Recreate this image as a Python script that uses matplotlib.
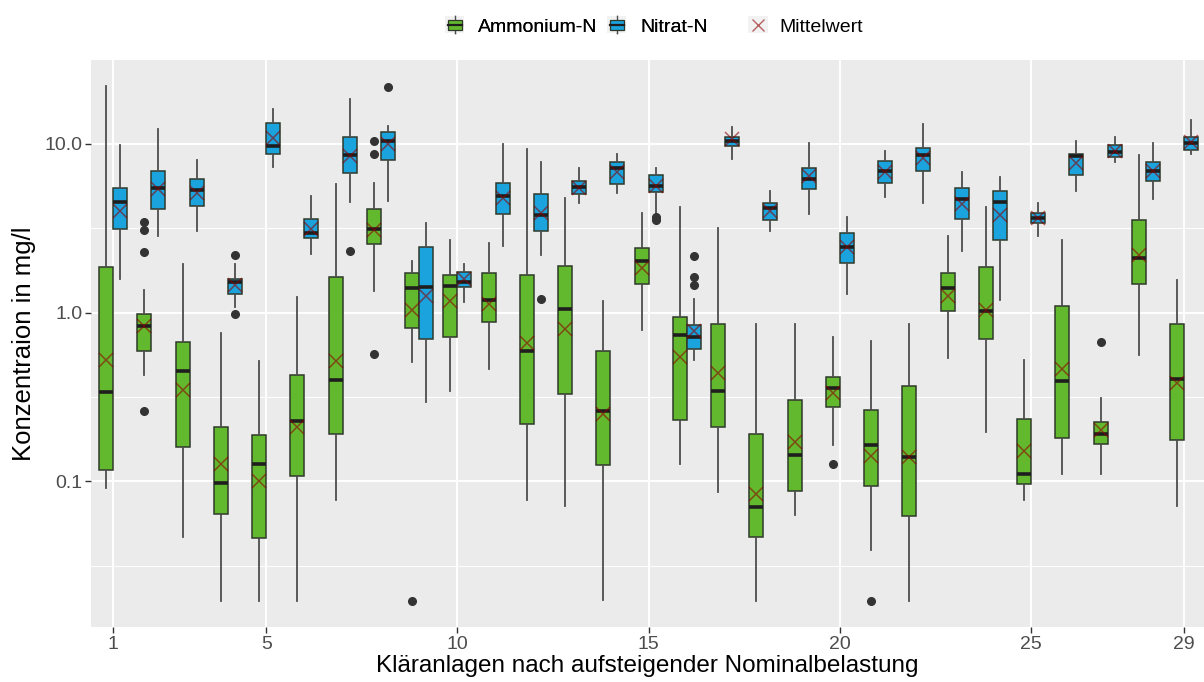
import numpy as np
import matplotlib
matplotlib.use("Agg")
import matplotlib.pyplot as plt
from matplotlib.patches import Rectangle, Patch
from matplotlib.lines import Line2D
from matplotlib.legend_handler import HandlerBase
from matplotlib.ticker import FixedLocator, NullFormatter

plt.rcParams['font.family'] = ['Liberation Sans', 'DejaVu Sans']

# plants 1..29, values in mg/l
plants = list(range(1, 30))

# Ammonium-N: lower whisker, Q1, median, Q3, upper whisker, mean, outliers
nh4_lo = [0.091, 0.426, 0.047, 0.0196, 0.0196, 0.0196, 0.078, 1.35, 0.507, 0.344,
          0.461, 0.078, 0.071, 0.0197, 0.788, 0.126, 0.0866, 0.0196, 0.063, 0.165,
          0.039, 0.0196, 0.538, 0.196, 0.078, 0.111, 0.11, 0.557, 0.071]
nh4_q1 = [0.116, 0.594, 0.16, 0.0643, 0.046, 0.107, 0.192, 2.53, 0.812, 0.717,
          0.879, 0.218, 0.327, 0.125, 1.48, 0.231, 0.21, 0.0468, 0.0875, 0.275,
          0.0938, 0.0627, 1.015, 0.70, 0.097, 0.18, 0.167, 1.47, 0.175]
nh4_med = [0.339, 0.83, 0.452, 0.098, 0.126, 0.228, 0.401, 3.12, 1.40, 1.43,
           1.18, 0.588, 1.056, 0.26, 2.03, 0.735, 0.344, 0.0703, 0.143, 0.356,
           0.165, 0.139, 1.40, 1.025, 0.11, 0.393, 0.191, 2.1, 0.403]
nh4_q3 = [1.86, 0.985, 0.672, 0.21, 0.187, 0.426, 1.63, 4.11, 1.71, 1.68,
          1.72, 1.68, 1.88, 0.594, 2.42, 0.938, 0.861, 0.191, 0.305, 0.416,
          0.264, 0.367, 1.72, 1.86, 0.234, 1.09, 0.224, 3.54, 0.861]
nh4_hi = [22.0, 1.36, 1.94, 0.761, 0.517, 1.24, 5.74, 5.82, 2.02, 2.68,
          2.57, 9.33, 4.75, 1.17, 3.89, 4.22, 3.18, 0.853, 0.853, 0.714,
          0.682, 0.853, 2.86, 4.2, 0.52, 2.68, 0.312, 8.57, 1.56]
nh4_mean = [0.52, 0.83, 0.349, 0.126, 0.10, 0.21, 0.517, 3.07, 1.03, 1.17,
            1.13, 0.656, 0.80, 0.249, 1.84, 0.543, 0.441, 0.0836, 0.172, 0.336,
            0.142, 0.14, 1.26, 1.03, 0.152, 0.463, 0.202, 2.19, 0.384]
nh4_out = [[], [3.42, 3.07, 2.29, 0.262], [], [], [], [], [], [10.45, 8.7, 0.565],
           [0.0196], [], [], [], [], [], [], [], [], [], [], [0.126],
           [0.0196], [], [], [], [], [], [0.672], [], []]

# Nitrat-N
no3_lo = [1.58, 2.86, 3.05, 1.08, 7.24, 2.23, 4.5, 4.61, 0.296, 1.15,
          2.48, 2.19, 4.43, 5.14, 3.91, 0.525, 8.16, 3.05, 3.86, 1.29,
          4.82, 4.48, 2.32, 1.18, 2.84, 5.22, 7.8, 4.73, 8.74]
no3_q1 = [3.12, 4.11, 4.26, 1.29, 8.74, 2.75, 6.69, 8.04, 0.70, 1.42,
          3.82, 3.04, 5.07, 5.76, 5.19, 0.609, 9.66, 3.54, 5.38, 1.97,
          5.82, 6.92, 3.58, 2.70, 3.41, 6.49, 8.36, 6.03, 9.2]
no3_med = [4.5, 5.49, 5.33, 1.52, 9.7, 2.94, 8.53, 10.45, 1.42, 1.51,
           4.9, 3.78, 5.51, 7.2, 5.6, 0.717, 10.45, 4.15, 6.18, 2.44,
           6.92, 8.53, 4.73, 4.54, 3.63, 8.45, 8.88, 6.92, 10.1]
no3_q3 = [5.49, 6.92, 6.18, 1.57, 13.3, 3.58, 11.0, 11.8, 2.43, 1.74,
          5.88, 5.07, 6.03, 7.84, 6.49, 0.849, 11.0, 4.48, 7.2, 2.95,
          7.92, 9.47, 5.46, 5.24, 3.91, 8.74, 9.8, 7.84, 11.0]
no3_hi = [9.8, 12.2, 8.04, 1.95, 16.1, 4.87, 18.4, 12.7, 3.41, 1.95,
          9.9, 7.84, 7.2, 8.74, 7.2, 1.2, 12.5, 5.24, 10.05, 3.67,
          9.1, 13.0, 6.76, 6.37, 4.48, 10.4, 10.9, 10.05, 13.9]
no3_mean = [4.0, 5.4, 5.14, 1.45, 10.8, 3.13, 8.5, 10.0, 1.26, 1.58,
            4.8, 3.88, 5.5, 6.76, 5.6, 0.78, 10.6, 3.99, 6.43, 2.44,
            6.76, 8.24, 4.39, 3.78, 3.63, 7.72, 9.1, 6.92, 10.2]
no3_out = [[], [], [], [2.18, 0.975], [], [], [2.31], [21.6], [], [],
           [], [1.2], [], [], [3.69, 3.55], [2.16, 1.62, 1.45], [], [], [], [],
           [], [], [], [], [], [], [], [], []]

xticks = [1, 5, 10, 15, 20, 25, 29]

green = '#63B92E'
blue = '#1BA3DE'
mean_col = (0.55, 0.0, 0.0, 0.6)


def make_stats(lo, q1, med, q3, hi, mean, out):
    return [dict(whislo=a, q1=b, med=c, q3=d, whishi=e, mean=f, fliers=g)
            for a, b, c, d, e, f, g in zip(lo, q1, med, q3, hi, mean, out)]


fig = plt.figure(figsize=(12.04, 6.82), dpi=100)
ax = fig.add_axes([91 / 1204, 1 - 626.7 / 682, 1 - 91 / 1204, (626.7 - 60) / 682])
ax.set_facecolor('#EBEBEB')
ax.set_yscale('log')

w = 0.365
off = 0.183
pos = np.array(plants, dtype=float)

for stats, p, col in [(make_stats(nh4_lo, nh4_q1, nh4_med, nh4_q3, nh4_hi, nh4_mean, nh4_out), pos - off, green),
                      (make_stats(no3_lo, no3_q1, no3_med, no3_q3, no3_hi, no3_mean, no3_out), pos + off, blue)]:
    ax.bxp(stats, positions=p, widths=w, patch_artist=True, showcaps=False,
           showmeans=True, manage_ticks=False,
           boxprops=dict(facecolor=col, edgecolor='#2F3A2A', linewidth=1.1),
           whiskerprops=dict(color='#4D4D4D', linewidth=1.3),
           medianprops=dict(color='#1E1E1E', linewidth=2.6),
           meanprops=dict(marker='x', markeredgecolor=mean_col, markersize=10, markeredgewidth=1.1),
           flierprops=dict(marker='o', markerfacecolor='#333333', markeredgecolor='#333333', markersize=5.5))

ax.set_xlim(0.42, 29.52)
ax.set_ylim(10 ** -1.861, 10 ** 1.496)

ax.set_xticks(xticks)
ax.set_xticklabels([str(t) for t in xticks])
ax.yaxis.set_major_locator(FixedLocator([0.1, 1.0, 10.0]))
ax.set_yticklabels(['0.1', '1.0', '10.0'])
ax.yaxis.set_minor_locator(FixedLocator([10 ** -1.5, 10 ** -0.5, 10 ** 0.5, 10 ** 1.5]))
ax.yaxis.set_minor_formatter(NullFormatter())
ax.tick_params(axis='y', which='minor', length=0)
ax.tick_params(axis='both', which='major', length=4, width=1, color='#333333',
               labelsize=14, labelcolor='#4D4D4D', pad=2)
ax.tick_params(axis='x', which='major', pad=3)

ax.grid(True, which='major', color='white', linewidth=1.4)
ax.grid(True, which='minor', axis='y', color='white', linewidth=0.7)
ax.set_axisbelow(True)
for s in ax.spines.values():
    s.set_visible(False)

ax.set_xlabel('Kläranlagen nach aufsteigender Nominalbelastung', fontsize=17.5, labelpad=1)
ax.set_ylabel('Konzentraion in mg/l', fontsize=18.5, labelpad=6)


class BoxKey(HandlerBase):
    def create_artists(self, legend, orig, xd, yd, width, height, fontsize, trans):
        x0, y0 = -xd, -yd
        bg = Rectangle((x0, y0), width, height, fc='#F2F2F2', ec='none', transform=trans)
        cx = x0 + width / 2
        wl = Line2D([cx, cx], [y0, y0 + height], color='#4D4D4D', lw=1.0, transform=trans)
        box = Rectangle((x0 + width * 0.12, y0 + height * 0.2), width * 0.76, height * 0.6,
                        fc=orig.get_facecolor(), ec='#2F3A2A', lw=0.9, transform=trans)
        med = Line2D([x0 + width * 0.12, x0 + width * 0.88], [y0 + height / 2] * 2,
                     color='#1E1E1E', lw=1.6, transform=trans)
        return [bg, wl, box, med]


class MeanKey(HandlerBase):
    def create_artists(self, legend, orig, xd, yd, width, height, fontsize, trans):
        x0, y0 = -xd, -yd
        bg = Rectangle((x0, y0), width, height, fc='#F2F2F2', ec='none', transform=trans)
        m = Line2D([x0 + width / 2], [y0 + height / 2], marker='x', markersize=9,
                   markeredgecolor=mean_col, markeredgewidth=1.0, linestyle='none', transform=trans)
        return [bg, m]


h_nh4 = Patch(facecolor=green)
h_no3 = Patch(facecolor=blue)
h_mean = Patch(facecolor='none')

leg1 = fig.legend([h_nh4, h_no3], ['Ammonium-N', 'Nitrat-N'], handler_map={h_nh4: BoxKey(), h_no3: BoxKey()},
                  loc='center right', bbox_to_anchor=(708 / 1204, 1 - 26 / 682), ncol=2, frameon=False,
                  fontsize=14, handlelength=0.95, handleheight=0.95, handletextpad=0.75,
                  columnspacing=0.5, borderpad=0, borderaxespad=0)
fig.add_artist(leg1)
leg2 = fig.legend([h_mean], ['Mittelwert'], handler_map={h_mean: MeanKey()},
                  loc='center left', bbox_to_anchor=(748 / 1204, 1 - 26 / 682), frameon=False,
                  fontsize=14, handlelength=1.05, handleheight=0.95, handletextpad=0.55,
                  borderpad=0, borderaxespad=0)

fig.savefig('out.png', dpi=100)
